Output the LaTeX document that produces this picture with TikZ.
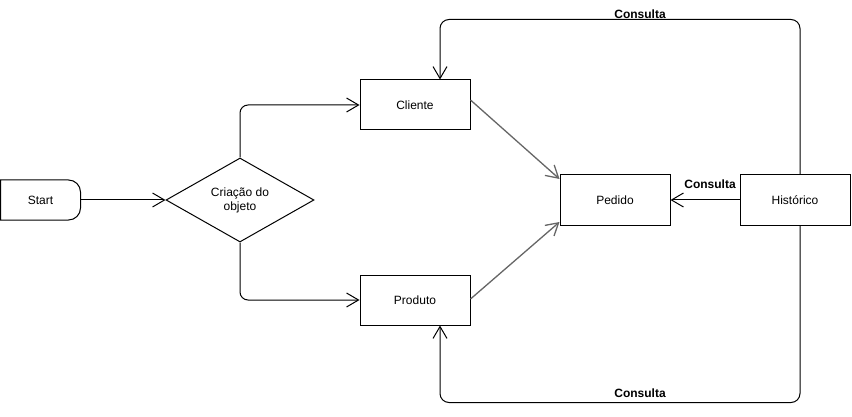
\documentclass[tikz,border=0pt]{standalone}
\usepackage{fontspec}
\setmainfont{Liberation Sans}
\usetikzlibrary{arrows.meta,shapes.geometric,calc}
\definecolor{linkgray}{RGB}{102,102,102}
\begin{document}
\begin{tikzpicture}[x=1pt,y=-1pt,
  every node/.style={font=\fontsize{12}{14}\selectfont},
  box/.style={draw, line width=1pt, minimum width=110pt, minimum height=50pt, inner sep=0pt},
  decision/.style={draw, diamond, line width=1pt, aspect=1.76, inner sep=0pt,
    minimum width=148pt, minimum height=84pt, align=center},
  flow/.style={line width=1pt, -{Straight Barb[length=12pt,width=14pt]}},
  link/.style={flow, draw=linkgray, line width=1.3pt},
  loop/.style={flow, rounded corners=9pt},
  lbl/.style={font=\bfseries\fontsize{12}{14}\selectfont, inner sep=0pt}
]
\useasboundingbox (0,0) rectangle (852,417);

% start terminal: flat left side, rounded right corners
\node[minimum width=80pt, minimum height=40pt, inner sep=0pt] (start) at (40.5,200) {Start};
\draw[line width=1pt] (0.5,180) -- (68.5,180)
  arc[start angle=90, end angle=0, radius=12pt] -- (80.5,208)
  arc[start angle=0, end angle=-90, radius=12pt] -- (0.5,220) -- cycle;

\node[decision] (dec) at (240,200) {Criação do\\objeto};

\node[box] (cli)  at (415,105) {Cliente};
\node[box] (prod) at (415,300) {Produto};
\node[box] (ped)  at (615,200) {Pedido};
\node[box] (hist) at (795,200) {Histórico};

% main flow
\draw[flow] (start) -- (dec);
\draw[flow, rounded corners=8pt] (dec.north) |- (cli.west);
\draw[flow, rounded corners=8pt] (dec.south) |- (prod.west);

% items into the order
\draw[link] ([yshift=5pt]cli.east) -- ([yshift=21pt]ped.west);
\draw[link] ([yshift=1pt]prod.east) -- ([yshift=-22pt]ped.west);

% history lookups
\draw[flow] (hist) -- (ped);
\node[lbl] (q1) at (710,184) {Consulta};

\draw[loop] ([xshift=5pt]hist.north) -- ++(0,-155) -| ([xshift=25pt]cli.north);
\node[lbl] (q2) at (640,14) {Consulta};

\draw[loop] ([xshift=5pt]hist.south) -- ++(0,177) -| ([xshift=25pt]prod.south);
\node[lbl] (q3) at (640,393) {Consulta};
\end{tikzpicture}
\end{document}
